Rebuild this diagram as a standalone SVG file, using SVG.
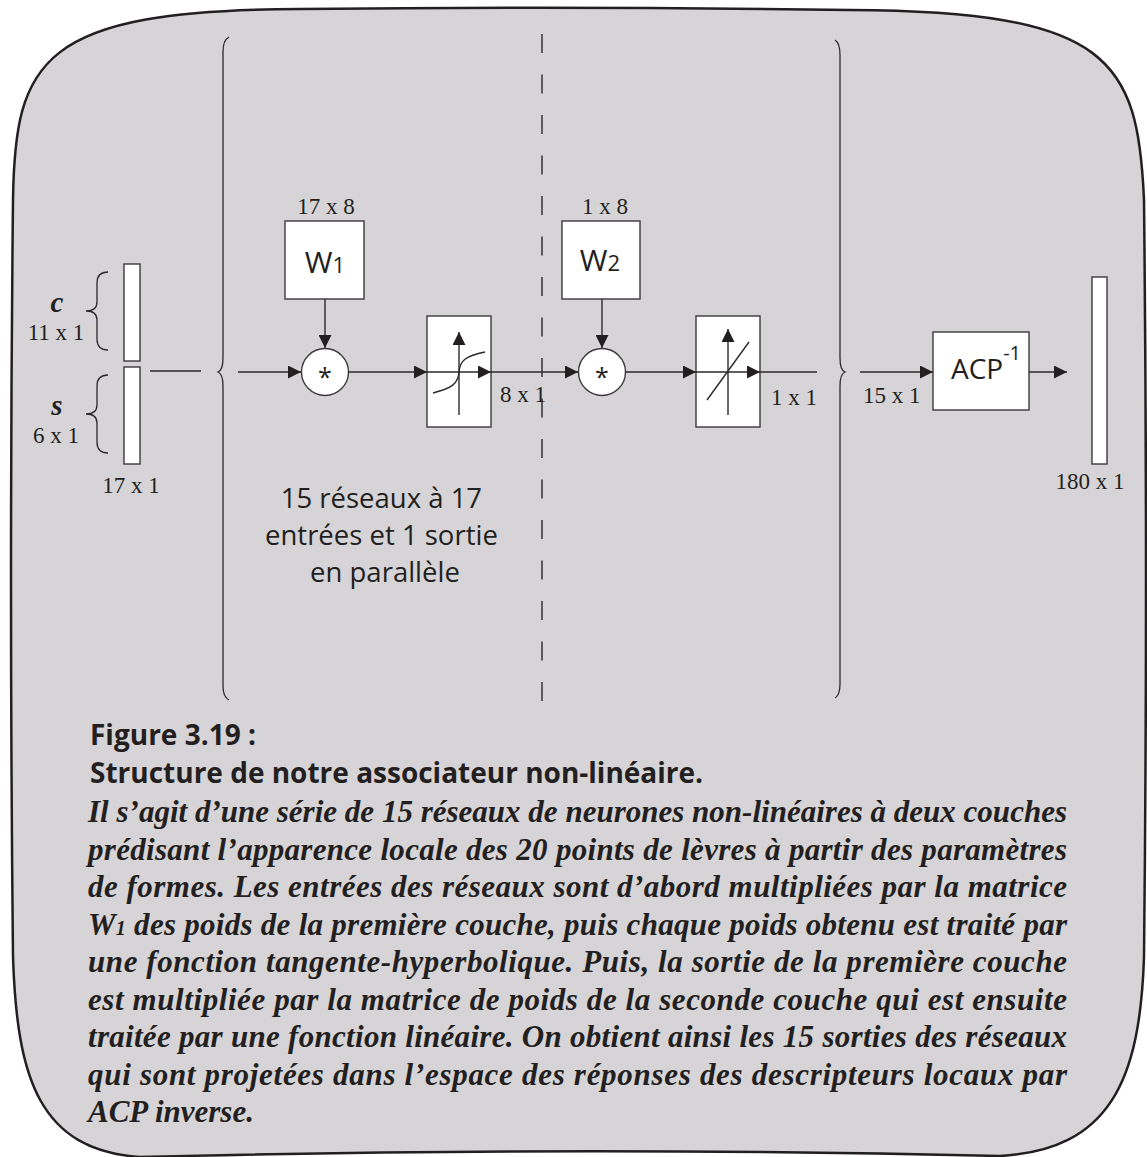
<svg xmlns="http://www.w3.org/2000/svg" width="1147" height="1157" viewBox="0 0 1147 1157">
<defs>
<style>
.bg{fill:#d6d4d6;stroke:#231f20;stroke-width:2.5}
.box{fill:#fff;stroke:#3a3a3a;stroke-width:1.4}
.ln{fill:none;stroke:#2a2a2a;stroke-width:1.4}
.br{fill:none;stroke:#2a2a2a;stroke-width:1.3}
.dash{fill:none;stroke:#2a2a2a;stroke-width:1.4;stroke-dasharray:19 21.5}
.sr{font-family:"Liberation Serif","Times New Roman",serif;font-size:23px;fill:#231f20}
.var{font-family:"Liberation Serif","Times New Roman",serif;font-size:29px;font-weight:bold;font-style:italic;fill:#231f20;text-anchor:middle}
.sn{font-family:"Open Sans","Noto Sans",sans-serif;fill:#231f20}
.cap{font-family:"Open Sans","Noto Sans",sans-serif;font-weight:bold;font-size:28px;fill:#231f20}
.it{font-family:"Liberation Serif","Times New Roman",serif;font-weight:bold;font-style:italic;font-size:31px;fill:#231f20}
</style>
<marker id="ah" viewBox="0 0 13 13" refX="13" refY="6.5" markerWidth="13" markerHeight="13" markerUnits="userSpaceOnUse" orient="auto">
<path d="M0,0 L13,6.5 L0,13 z" fill="#231f20"/>
</marker>
</defs>

<path id="frame" class="bg" d="M13,200 C15,60 40,10 300,9 Q575,6 850,10 C1110,11 1138,60 1144,200 Q1148,580 1144,957 C1140,1080 1110,1150 1000,1156 Q575,1146 140,1157 C40,1150 17,1080 13,957 Q9,580 13,200 Z"/>

<g id="input">
<rect class="box" x="124" y="264" width="16" height="97"/>
<rect class="box" x="124" y="367" width="16" height="97"/>
<path class="br" d="M108,272 Q97,272 97,283 L97,302 Q97,311 86,311 Q97,311 97,320 L97,339 Q97,350 108,350"/>
<path class="br" d="M108,375 Q97,375 97,386 L97,405 Q97,414 86,414 Q97,414 97,423 L97,442 Q97,453 108,453"/>
<text class="var" x="57" y="312">c</text>
<text class="sr" x="56" y="340" text-anchor="middle">11 x 1</text>
<text class="var" x="57" y="415">s</text>
<text class="sr" x="56" y="443" text-anchor="middle">6 x 1</text>
<text class="sr" x="131" y="493" text-anchor="middle">17 x 1</text>
</g>

<g id="brace-left">
<path class="br" d="M229,37 Q223,40 223,52 L223,358 Q223,370 218,372 Q223,374 223,386 L223,686 Q223,697 229,700"/>
</g>
<g id="brace-right">
<path class="br" d="M835,40 Q840,43 840,55 L840,358 Q840,370 845,372 Q840,374 840,386 L840,684 Q840,695 835,698"/>
</g>

<line id="separator" class="dash" x1="542" y1="34" x2="542" y2="702"/>

<g id="w1">
<text class="sr" x="326" y="214" text-anchor="middle">17 x 8</text>
<rect class="box" x="285" y="221" width="79" height="78"/>
<text class="sn" x="325" y="273" text-anchor="middle" font-size="30">W<tspan font-size="22">1</tspan></text>
</g>

<g id="mult1">
<circle class="box" cx="325" cy="372" r="23.5"/>
<text class="sn" x="325" y="386" text-anchor="middle" font-size="25">*</text>
</g>

<g id="tanh">
<rect class="box" x="427" y="316" width="64" height="111"/>
<line class="ln" x1="427" y1="372" x2="491" y2="372" marker-end="url(#ah)"/>
<line class="ln" x1="459" y1="415" x2="459" y2="332" marker-end="url(#ah)"/>
<path class="ln" d="M433,393 C452,388 458,384 459,372 C460,360 466,356 485,352"/>
<text class="sr" x="500" y="402">8 x 1</text>
</g>

<g id="w2">
<text class="sr" x="605" y="214" text-anchor="middle">1 x 8</text>
<rect class="box" x="562" y="221" width="78" height="78"/>
<text class="sn" x="600" y="271" text-anchor="middle" font-size="30">W<tspan font-size="22">2</tspan></text>
</g>

<g id="mult2">
<circle class="box" cx="602" cy="372" r="23.5"/>
<text class="sn" x="602" y="386" text-anchor="middle" font-size="25">*</text>
</g>

<g id="linear">
<rect class="box" x="696" y="316" width="64" height="111"/>
<line class="ln" x1="696" y1="372" x2="760" y2="372" marker-end="url(#ah)"/>
<line class="ln" x1="728" y1="415" x2="728" y2="329" marker-end="url(#ah)"/>
<line class="ln" x1="707" y1="400" x2="749" y2="342"/>
<text class="sr" x="771" y="405">1 x 1</text>
</g>

<g id="acp">
<rect class="box" x="933" y="332" width="96" height="78"/>
<text class="sn" x="951" y="379" font-size="28">ACP<tspan font-size="20" dy="-19">-1</tspan></text>
<text class="sr" x="863" y="403">15 x 1</text>
</g>

<g id="output">
<rect class="box" x="1092" y="277" width="15" height="187"/>
<text class="sr" x="1090" y="489" text-anchor="middle">180 x 1</text>
</g>

<g id="note">
<text class="sn" font-size="27.5" text-anchor="middle">
<tspan x="385" y="508">15 réseaux à 17</tspan>
<tspan x="385" y="545">entrées et 1 sortie</tspan>
<tspan x="385" y="582">en parallèle</tspan>
</text>
</g>

<g id="connectors">
<line class="ln" x1="150" y1="371" x2="201" y2="371"/>
<line class="ln" x1="238" y1="372" x2="301" y2="372" marker-end="url(#ah)"/>
<line class="ln" x1="325" y1="299" x2="325" y2="348" marker-end="url(#ah)"/>
<line class="ln" x1="348" y1="372" x2="427" y2="372" marker-end="url(#ah)"/>
<line class="ln" x1="491" y1="372" x2="578" y2="372" marker-end="url(#ah)"/>
<line class="ln" x1="602" y1="299" x2="602" y2="348" marker-end="url(#ah)"/>
<line class="ln" x1="625" y1="372" x2="696" y2="372" marker-end="url(#ah)"/>
<line class="ln" x1="760" y1="372" x2="817" y2="372"/>
<line class="ln" x1="860" y1="372" x2="933" y2="372" marker-end="url(#ah)"/>
<line class="ln" x1="1029" y1="372" x2="1067" y2="372" marker-end="url(#ah)"/>
</g>

<g id="caption">
<text class="cap" x="90" y="745">Figure 3.19 :</text>
<text class="cap" x="90" y="783">Structure de notre associateur non-linéaire.</text>
<text class="it" x="88" y="822" textLength="979" lengthAdjust="spacing">Il s’agit d’une série de 15 réseaux de neurones non-linéaires à deux couches</text>
<text class="it" x="88" y="859.5" textLength="979" lengthAdjust="spacing">prédisant l’apparence locale des 20 points de lèvres à partir des paramètres</text>
<text class="it" x="88" y="897" textLength="979" lengthAdjust="spacing">de formes. Les entrées des réseaux sont d’abord multipliées par la matrice</text>
<text class="it" x="88" y="934.5" textLength="979" lengthAdjust="spacing">W<tspan font-size="20">1</tspan> des poids de la première couche, puis chaque poids obtenu est traité par</text>
<text class="it" x="88" y="972" textLength="979" lengthAdjust="spacing">une fonction tangente-hyperbolique. Puis, la sortie de la première couche</text>
<text class="it" x="88" y="1009.5" textLength="979" lengthAdjust="spacing">est multipliée par la matrice de poids de la seconde couche qui est ensuite</text>
<text class="it" x="88" y="1047" textLength="979" lengthAdjust="spacing">traitée par une fonction linéaire. On obtient ainsi les 15 sorties des réseaux</text>
<text class="it" x="88" y="1084.5" textLength="979" lengthAdjust="spacing">qui sont projetées dans l’espace des réponses des descripteurs locaux par</text>
<text class="it" x="88" y="1122">ACP inverse.</text>
</g>
</svg>
